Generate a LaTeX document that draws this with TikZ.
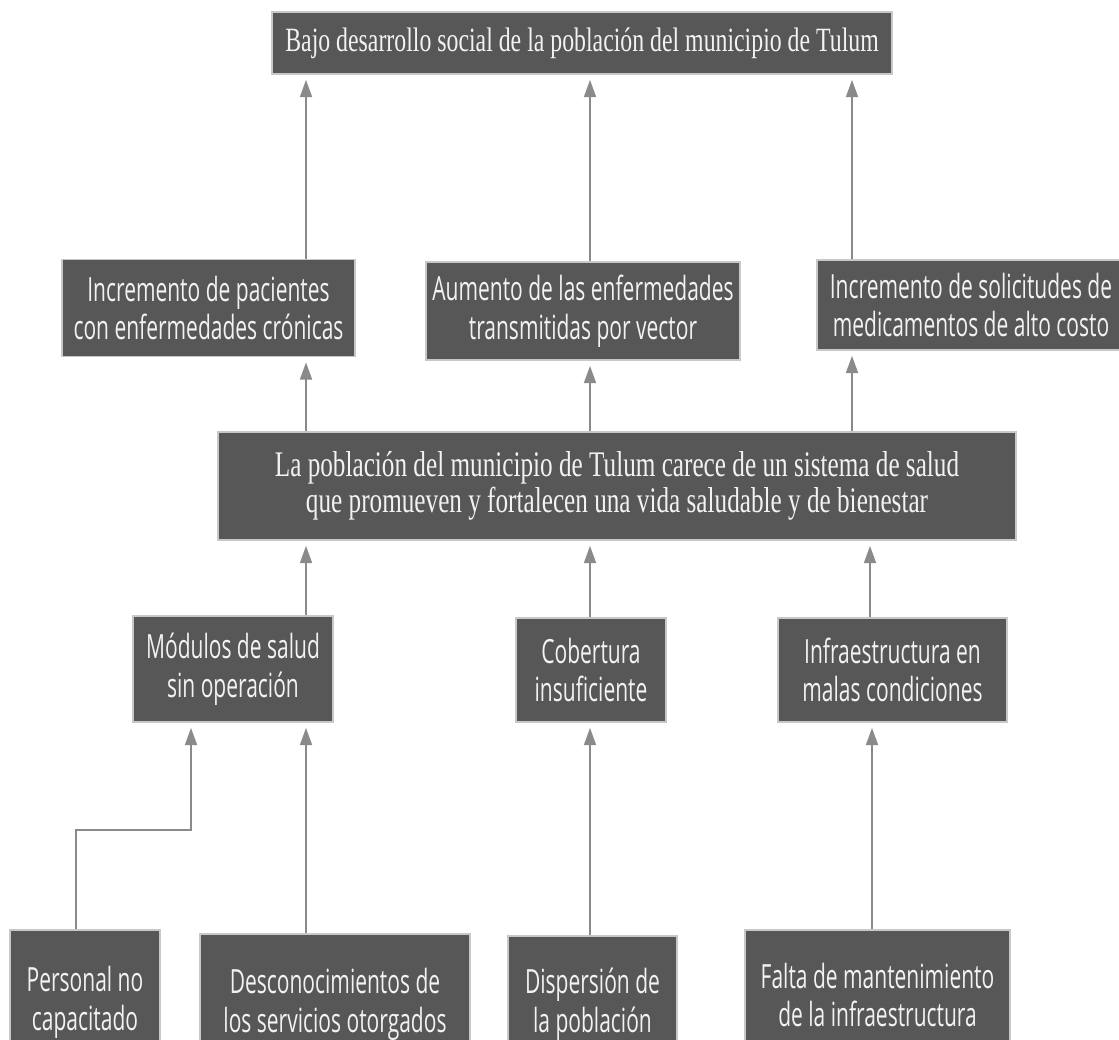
\documentclass[tikz,border=0pt]{standalone}
\usepackage{fontspec}
\setmainfont{Liberation Serif}[FakeStretch=0.7]
\setsansfont{Open Sans}[FakeStretch=0.63]
\usepackage{tikz}
\usetikzlibrary{arrows.meta}

\definecolor{fondocaja}{HTML}{575757}
\definecolor{bordecaja}{HTML}{C8C8C8}
\definecolor{grisflecha}{HTML}{8A8A8A}
\definecolor{letra}{HTML}{F2F2F2}

\tikzset{
  caja/.style={rectangle, fill=fondocaja, draw=bordecaja, line width=0.8pt, text=letra, align=center, inner sep=0pt},
  tam/.style 2 args={minimum width=#1*0.75pt, minimum height=#2*0.75pt},
  serif/.style={caja, font=\fontsize{25.5}{27}\selectfont},
  serifgrande/.style={caja, font=\fontsize{27}{27}\selectfont},
  sans/.style={caja, font=\sffamily\fontsize{25}{29}\selectfont},
  flecha/.style={draw=grisflecha, line width=1.5pt, -{Triangle[length=13pt, width=9pt]}, shorten >=4pt},
}

\begin{document}
\begin{tikzpicture}[x=0.75pt, y=-0.75pt]
    \useasboundingbox (0,0) rectangle (1119,1039);
    \fill[white] (0,0) rectangle (1119,1039);
    \clip (0,0) rectangle (1119,1039);

    \coordinate (colA) at (306,0);
    \coordinate (colB) at (590,0);
    \coordinate (colC) at (852,0);
    \coordinate (colD) at (870,0);
    \coordinate (colE) at (191,0);
    \coordinate (colF) at (872,0);
    \coordinate (codo) at (76,830);

    \node (Tulum) [serif, tam={620}{62}] at (582,43) {Bajo desarrollo social de la población del municipio de Tulum};

    \node (Pacientes) [sans, tam={293}{97}] at (208.5,308) {Incremento de pacientes\\con enfermedades crónicas};
    \node (Vector) [sans, tam={314}{98}] at (583,311) {Aumento de las enfermedades\\transmitidas por vector};
    \node (Costo) [sans, tam={308}{90}] at (971,305) {Incremento de solicitudes de\\medicamentos de alto costo};

    \node (Sistema) [serifgrande, tam={798}{108}] at (617,486) {La población del municipio de Tulum carece de un sistema de salud\\que promueven y fortalecen una vida saludable y de bienestar};

    \node (Modulos) [sans, tam={200}{106}] at (233,669) {Módulos de salud\\sin operación};
    \node (Cobertura) [sans, tam={150}{104}] at (591,670) {Cobertura\\insuficiente};
    \node (Infra) [sans, tam={229}{104}] at (892.5,670) {Infraestructura en\\malas condiciones};

    \node (Personal) [sans, tam={150}{144}] at (85,1002) {Personal no\\capacitado};
    \node (Descon) [sans, tam={270}{140}] at (335,1004) {Desconocimientos de\\los servicios otorgados};
    \node (Dispersion) [sans, tam={169}{136}] at (592.5,1004) {Dispersión de\\la población};
    \node (Falta) [sans, tam={265}{130}] at (877.5,995) {Falta de mantenimiento\\de la infraestructura};

    \draw[flecha] (Pacientes.north -| colA) -- (Tulum.south -| colA);
    \draw[flecha] (Vector.north -| colB) -- (Tulum.south -| colB);
    \draw[flecha] (Costo.north -| colC) -- (Tulum.south -| colC);

    \draw[flecha] (Sistema.north -| colA) -- (Pacientes.south -| colA);
    \draw[flecha] (Sistema.north -| colB) -- (Vector.south -| colB);
    \draw[flecha] (Sistema.north -| colC) -- (Costo.south -| colC);

    \draw[flecha] (Modulos.north -| colA) -- (Sistema.south -| colA);
    \draw[flecha] (Cobertura.north -| colB) -- (Sistema.south -| colB);
    \draw[flecha] (Infra.north -| colD) -- (Sistema.south -| colD);

    \draw[flecha] (Personal.north -| codo) -- (codo) -| (Modulos.south -| colE);
    \draw[flecha] (Descon.north -| colA) -- (Modulos.south -| colA);
    \draw[flecha] (Dispersion.north -| colB) -- (Cobertura.south -| colB);
    \draw[flecha] (Falta.north -| colF) -- (Infra.south -| colF);
\end{tikzpicture}
\end{document}
